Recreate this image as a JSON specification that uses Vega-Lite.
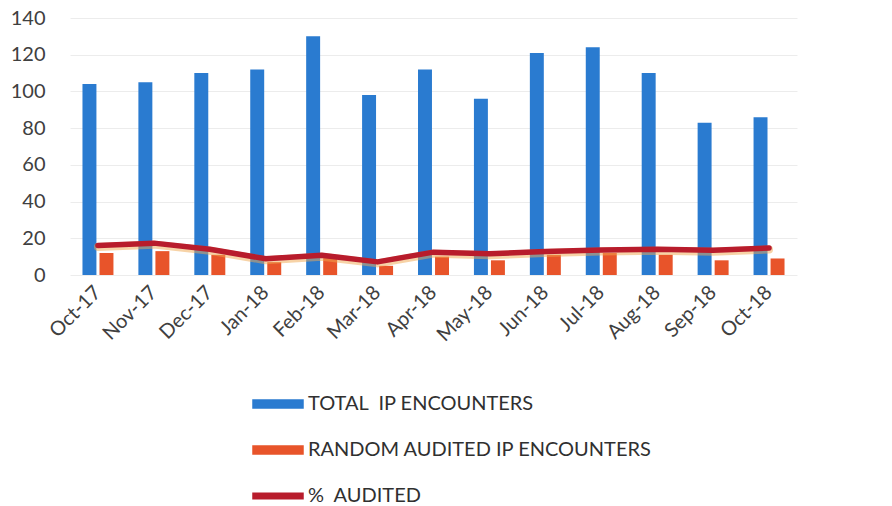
{
  "$schema": "https://vega.github.io/schema/vega-lite/v6.json",
  "autosize": {"type": "none"},
  "width": 727,
  "height": 257,
  "padding": {"left": 70, "top": 18, "right": 95, "bottom": 231},
  "background": "white",
  "config": {
    "font": "Lato",
    "view": {"stroke": null},
    "axis": {"labelFont": "Lato", "labelColor": "#404040", "labelFontSize": 20, "ticks": false, "domain": false, "title": null}
  },
  "data": {
    "values": [
      {"month": "Oct-17", "total": 104, "random": 12, "pct": 0.115},
      {"month": "Nov-17", "total": 105, "random": 13, "pct": 0.124},
      {"month": "Dec-17", "total": 110, "random": 11, "pct": 0.100},
      {"month": "Jan-18", "total": 112, "random": 7, "pct": 0.063},
      {"month": "Feb-18", "total": 130, "random": 10, "pct": 0.077},
      {"month": "Mar-18", "total": 98, "random": 5, "pct": 0.051},
      {"month": "Apr-18", "total": 112, "random": 10, "pct": 0.089},
      {"month": "May-18", "total": 96, "random": 8, "pct": 0.083},
      {"month": "Jun-18", "total": 121, "random": 11, "pct": 0.091},
      {"month": "Jul-18", "total": 124, "random": 12, "pct": 0.097},
      {"month": "Aug-18", "total": 110, "random": 11, "pct": 0.100},
      {"month": "Sep-18", "total": 83, "random": 8, "pct": 0.096},
      {"month": "Oct-18", "total": 86, "random": 9, "pct": 0.105}
    ]
  },
  "encoding": {
    "x": {
      "field": "month",
      "type": "nominal",
      "sort": null,
      "scale": {"paddingInner": 0.446, "paddingOuter": 0.223},
      "axis": {"labelAngle": -45, "labelAlign": "right", "labelBaseline": "middle", "labelPadding": 14}
    }
  },
  "layer": [
    {
      "transform": [{"fold": ["total", "random"], "as": ["series", "count"]}],
      "mark": {"type": "bar"},
      "encoding": {
        "xOffset": {"field": "series", "sort": ["total", "random"], "scale": {"paddingInner": 0.18}},
        "y": {
          "field": "count",
          "type": "quantitative",
          "scale": {"domain": [0, 140], "nice": false},
          "axis": {"orient": "left", "values": [0, 20, 40, 60, 80, 100, 120, 140], "labelPadding": 25, "grid": true, "gridColor": "#ececec", "gridWidth": 1}
        },
        "color": {
          "field": "series",
          "type": "nominal",
          "scale": {"domain": ["total", "random", "pct"], "range": ["#2a7bd0", "#e8542a", "#b81c2c"]},
          "legend": {
            "orient": "none",
            "legendX": 182,
            "legendY": 360,
            "direction": "vertical",
            "title": null,
            "padding": 0,
            "rowPadding": 10,
            "labelFont": "Lato",
            "labelFontSize": 20,
            "labelLimit": 600,
            "labelColor": "#303030",
            "labelOffset": 4,
            "symbolSize": 2500,
            "symbolStrokeWidth": 0,
            "symbolType": "M-1,-0.16H1V0.16H-1Z",
            "labelExpr": "datum.value === 'total' ? 'TOTAL\u00a0 IP ENCOUNTERS' : datum.value === 'random' ? 'RANDOM AUDITED IP ENCOUNTERS' : '%\u00a0 AUDITED'",
            "encode": {
              "symbols": {
                "update": {
                  "shape": {"signal": "datum.value === 'pct' ? 'M-1,-0.11H1V0.11H-1Z' : 'M-1,-0.16H1V0.16H-1Z'"},
                  "stroke": {"signal": "datum.value === 'pct' ? '#f0b060' : 'transparent'"},
                  "strokeWidth": {"value": 1.5}
                }
              }
            }
          }
        }
      }
    },
    {
      "layer": [
        {
          "mark": {"type": "line", "color": "#f0a850", "strokeWidth": 8, "opacity": 0.5, "yOffset": 1.5, "strokeCap": "round", "strokeJoin": "round"},
          "encoding": {
            "y": {"field": "pct", "type": "quantitative", "scale": {"domain": [0, 1], "nice": false}, "axis": null}
          }
        },
        {
          "mark": {"type": "line", "strokeWidth": 5.5, "strokeCap": "round", "strokeJoin": "round"},
          "encoding": {
            "y": {
              "field": "pct",
              "type": "quantitative",
              "scale": {"domain": [0, 1], "nice": false},
              "axis": {"orient": "right", "format": ".1%", "values": [0, 0.2, 0.4, 0.6, 0.8, 1.0], "labelPadding": 20, "grid": false}
            },
            "color": {"datum": "pct"}
          }
        }
      ]
    }
  ],
  "resolve": {"scale": {"y": "independent"}}
}
